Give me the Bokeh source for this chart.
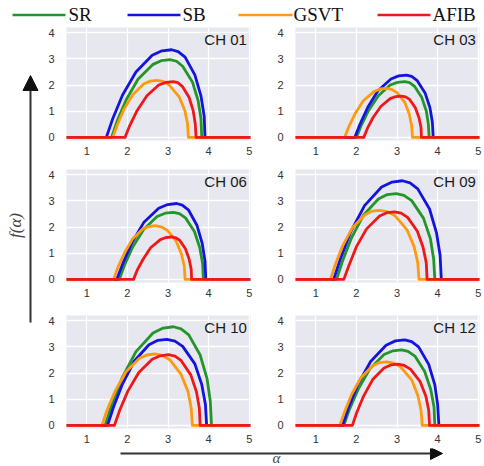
from bokeh.plotting import figure
from bokeh.layouts import column, row
from bokeh.models import FixedTicker, Label, Arrow, NormalHead, Range1d
from bokeh.embed import file_html
from bokeh.resources import INLINE
from bokeh.core.properties import value

# ---------------- data ----------------
CLASSES = ["SR", "SB", "GSVT", "AFIB"]
COLORS = ["#22962A", "#1414E0", "#FF9A10", "#EE1818"]
CHANNELS = ["CH 01", "CH 03", "CH 06", "CH 09", "CH 10", "CH 12"]
X_TICKS = [1, 2, 3, 4, 5]
Y_TICKS = [0, 1, 2, 3, 4]

CH01_SR_A = [1.61, 1.75, 1.97, 2.26, 2.62, 2.83, 3.05, 3.21, 3.36, 3.60, 3.74, 3.81, 3.83]
CH01_SR_F = [0, 0.64, 1.44, 2.22, 2.78, 2.93, 2.97, 2.91, 2.72, 2.12, 1.41, 0.72, 0]
CH01_SB_A = [1.48, 1.64, 1.88, 2.21, 2.61, 2.85, 3.09, 3.25, 3.42, 3.66, 3.81, 3.89, 3.91]
CH01_SB_F = [0, 0.72, 1.62, 2.50, 3.14, 3.31, 3.35, 3.28, 3.07, 2.39, 1.59, 0.81, 0]
CH01_GSVT_A = [1.64, 1.75, 1.91, 2.13, 2.40, 2.56, 2.72, 2.88, 3.03, 3.27, 3.41, 3.48, 3.50]
CH01_GSVT_F = [0, 0.47, 1.06, 1.63, 2.04, 2.15, 2.18, 2.14, 2.00, 1.56, 1.04, 0.53, 0]
CH01_AFIB_A = [1.94, 2.06, 2.24, 2.48, 2.77, 2.95, 3.13, 3.24, 3.35, 3.52, 3.62, 3.67, 3.69]
CH01_AFIB_F = [0, 0.46, 1.03, 1.59, 2.00, 2.10, 2.13, 2.09, 1.95, 1.52, 1.01, 0.52, 0]

CH03_SR_A = [2.00, 2.12, 2.30, 2.54, 2.83, 3.01, 3.19, 3.31, 3.43, 3.61, 3.72, 3.77, 3.79]
CH03_SR_F = [0, 0.46, 1.03, 1.59, 2.00, 2.10, 2.13, 2.09, 1.95, 1.52, 1.01, 0.52, 0]
CH03_SB_A = [1.96, 2.09, 2.28, 2.53, 2.85, 3.04, 3.23, 3.36, 3.49, 3.69, 3.81, 3.87, 3.89]
CH03_SB_F = [0, 0.51, 1.15, 1.78, 2.23, 2.35, 2.38, 2.33, 2.18, 1.70, 1.13, 0.58, 0]
CH03_GSVT_A = [1.71, 1.81, 1.97, 2.17, 2.43, 2.59, 2.74, 2.87, 3.00, 3.19, 3.30, 3.36, 3.38]
CH03_GSVT_F = [0, 0.40, 0.91, 1.40, 1.75, 1.85, 1.87, 1.83, 1.71, 1.34, 0.89, 0.45, 0]
CH03_AFIB_A = [2.18, 2.27, 2.41, 2.60, 2.83, 2.97, 3.11, 3.21, 3.31, 3.45, 3.54, 3.59, 3.60]
CH03_AFIB_F = [0, 0.34, 0.76, 1.18, 1.48, 1.56, 1.58, 1.55, 1.45, 1.13, 0.75, 0.38, 0]

CH06_SR_A = [1.80, 1.93, 2.13, 2.40, 2.73, 2.93, 3.13, 3.28, 3.43, 3.65, 3.78, 3.85, 3.87]
CH06_SR_F = [0, 0.55, 1.24, 1.91, 2.40, 2.53, 2.56, 2.51, 2.35, 1.83, 1.22, 0.62, 0]
CH06_SB_A = [1.74, 1.89, 2.11, 2.40, 2.77, 2.99, 3.21, 3.35, 3.50, 3.71, 3.84, 3.91, 3.93]
CH06_SB_F = [0, 0.62, 1.40, 2.17, 2.72, 2.86, 2.90, 2.84, 2.66, 2.07, 1.38, 0.70, 0]
CH06_GSVT_A = [1.66, 1.76, 1.92, 2.12, 2.37, 2.53, 2.68, 2.83, 2.98, 3.20, 3.33, 3.40, 3.42]
CH06_GSVT_F = [0, 0.44, 0.99, 1.53, 1.92, 2.02, 2.05, 2.01, 1.88, 1.46, 0.97, 0.50, 0]
CH06_AFIB_A = [2.15, 2.24, 2.39, 2.57, 2.81, 2.95, 3.09, 3.19, 3.29, 3.43, 3.52, 3.57, 3.58]
CH06_AFIB_F = [0, 0.35, 0.78, 1.21, 1.52, 1.60, 1.62, 1.59, 1.49, 1.16, 0.77, 0.39, 0]

CH09_SR_A = [1.51, 1.66, 1.88, 2.17, 2.54, 2.76, 2.98, 3.17, 3.36, 3.65, 3.82, 3.90, 3.93]
CH09_SR_F = [0, 0.71, 1.59, 2.45, 3.07, 3.24, 3.28, 3.21, 3.01, 2.34, 1.56, 0.80, 0]
CH09_SB_A = [1.44, 1.61, 1.86, 2.20, 2.62, 2.88, 3.13, 3.32, 3.51, 3.80, 3.97, 4.06, 4.09]
CH09_SB_F = [0, 0.81, 1.82, 2.82, 3.53, 3.72, 3.77, 3.69, 3.46, 2.69, 1.79, 0.92, 0]
CH09_GSVT_A = [1.36, 1.48, 1.66, 1.90, 2.21, 2.39, 2.57, 2.76, 2.96, 3.25, 3.42, 3.51, 3.54]
CH09_GSVT_F = [0, 0.57, 1.28, 1.97, 2.47, 2.61, 2.64, 2.59, 2.42, 1.88, 1.25, 0.64, 0]
CH09_AFIB_A = [1.69, 1.82, 2.00, 2.25, 2.57, 2.75, 2.94, 3.10, 3.26, 3.50, 3.64, 3.72, 3.74]
CH09_AFIB_F = [0, 0.55, 1.25, 1.93, 2.42, 2.55, 2.58, 2.53, 2.37, 1.84, 1.23, 0.63, 0]

CH10_SR_A = [1.45, 1.62, 1.87, 2.21, 2.63, 2.88, 3.13, 3.32, 3.51, 3.79, 3.96, 4.04, 4.07]
CH10_SR_F = [0, 0.81, 1.82, 2.82, 3.53, 3.72, 3.77, 3.69, 3.46, 2.69, 1.79, 0.92, 0]
CH10_SB_A = [1.51, 1.66, 1.88, 2.17, 2.53, 2.75, 2.97, 3.17, 3.36, 3.66, 3.83, 3.92, 3.95]
CH10_SB_F = [0, 0.71, 1.59, 2.46, 3.08, 3.25, 3.29, 3.22, 3.02, 2.35, 1.56, 0.80, 0]
CH10_GSVT_A = [1.37, 1.50, 1.70, 1.96, 2.29, 2.48, 2.68, 2.86, 3.05, 3.32, 3.49, 3.57, 3.60]
CH10_GSVT_F = [0, 0.59, 1.32, 2.04, 2.56, 2.69, 2.73, 2.68, 2.50, 1.95, 1.30, 0.66, 0]
CH10_AFIB_A = [1.68, 1.81, 2.01, 2.28, 2.61, 2.81, 3.01, 3.17, 3.32, 3.56, 3.70, 3.77, 3.79]
CH10_AFIB_F = [0, 0.58, 1.31, 2.02, 2.53, 2.66, 2.70, 2.65, 2.48, 1.93, 1.28, 0.66, 0]

CH12_SR_A = [1.69, 1.83, 2.05, 2.33, 2.68, 2.90, 3.11, 3.27, 3.44, 3.68, 3.83, 3.91, 3.93]
CH12_SR_F = [0, 0.62, 1.40, 2.16, 2.71, 2.85, 2.89, 2.83, 2.65, 2.06, 1.37, 0.70, 0]
CH12_SB_A = [1.66, 1.81, 2.04, 2.35, 2.73, 2.96, 3.19, 3.36, 3.53, 3.78, 3.93, 4.00, 4.03]
CH12_SB_F = [0, 0.70, 1.58, 2.44, 3.06, 3.23, 3.27, 3.20, 3.00, 2.33, 1.55, 0.79, 0]
CH12_GSVT_A = [1.59, 1.71, 1.88, 2.11, 2.40, 2.57, 2.74, 2.92, 3.09, 3.36, 3.51, 3.59, 3.62]
CH12_GSVT_F = [0, 0.52, 1.18, 1.82, 2.28, 2.40, 2.43, 2.38, 2.23, 1.74, 1.15, 0.59, 0]
CH12_AFIB_A = [1.90, 2.01, 2.18, 2.40, 2.68, 2.85, 3.02, 3.18, 3.33, 3.57, 3.71, 3.78, 3.80]
CH12_AFIB_F = [0, 0.50, 1.13, 1.75, 2.19, 2.31, 2.34, 2.29, 2.15, 1.67, 1.11, 0.57, 0]

CURVES = {
    "CH 01": [(CH01_SR_A, CH01_SR_F), (CH01_SB_A, CH01_SB_F),
              (CH01_GSVT_A, CH01_GSVT_F), (CH01_AFIB_A, CH01_AFIB_F)],
    "CH 03": [(CH03_SR_A, CH03_SR_F), (CH03_SB_A, CH03_SB_F),
              (CH03_GSVT_A, CH03_GSVT_F), (CH03_AFIB_A, CH03_AFIB_F)],
    "CH 06": [(CH06_SR_A, CH06_SR_F), (CH06_SB_A, CH06_SB_F),
              (CH06_GSVT_A, CH06_GSVT_F), (CH06_AFIB_A, CH06_AFIB_F)],
    "CH 09": [(CH09_SR_A, CH09_SR_F), (CH09_SB_A, CH09_SB_F),
              (CH09_GSVT_A, CH09_GSVT_F), (CH09_AFIB_A, CH09_AFIB_F)],
    "CH 10": [(CH10_SR_A, CH10_SR_F), (CH10_SB_A, CH10_SB_F),
              (CH10_GSVT_A, CH10_GSVT_F), (CH10_AFIB_A, CH10_AFIB_F)],
    "CH 12": [(CH12_SR_A, CH12_SR_F), (CH12_SB_A, CH12_SB_F),
              (CH12_GSVT_A, CH12_GSVT_F), (CH12_AFIB_A, CH12_AFIB_F)],
}

# ---------------- styling / layout ----------------
X_LO, X_HI = 0.5, 5.03
Y_LO, Y_HI = -0.12, 4.2
BG = "#E6E7EF"
TICK_FONT = "Liberation Sans"
SERIF = "Liberation Serif"
ROW_BOTTOM = [28, 32, 20]          # space under each row of panels
ROW_HEIGHTS = [1 + 113 + b for b in ROW_BOTTOM]


def make_panel(name, left, row_idx):
    width = 214 if left else 230
    mb_left = 26 if left else 41
    mb_right = 4 if left else 5
    mb_bottom = ROW_BOTTOM[row_idx]
    p = figure(width=width, height=ROW_HEIGHTS[row_idx],
               x_range=Range1d(X_LO, X_HI), y_range=Range1d(Y_LO, Y_HI),
               output_backend="svg", toolbar_location=None,
               min_border_left=mb_left, min_border_right=mb_right,
               min_border_top=1, min_border_bottom=mb_bottom)
    p.background_fill_color = BG
    p.border_fill_color = "white"
    p.outline_line_color = None
    p.xaxis.ticker = FixedTicker(ticks=X_TICKS)
    p.yaxis.ticker = FixedTicker(ticks=Y_TICKS)
    p.grid.grid_line_color = "white"
    p.grid.grid_line_width = 1.3
    for ax in (p.xaxis, p.yaxis):
        ax.axis_line_color = None
        ax.major_tick_line_color = None
        ax.minor_tick_line_color = None
        ax.major_tick_out = 0
        ax.major_tick_in = 0
        ax.major_label_text_font = TICK_FONT
        ax.major_label_text_font_size = "11px"
        ax.major_label_text_color = "#333333"
    p.xaxis.major_label_standoff = 6
    p.yaxis.major_label_standoff = 12

    for (alphas, fvals), color in zip(CURVES[name], COLORS):
        xs = [X_LO] + list(alphas) + [X_HI]
        ys = [0] + list(fvals) + [0]
        p.line(xs, ys, line_color=color, line_width=2.8, line_join="round")

    p.add_layout(Label(x=4.94, y=3.74, text=name, text_align="right",
                       text_baseline="middle", text_font=TICK_FONT,
                       text_font_size="15px", text_color="#1a1a1a"))
    return p


panels = []
for i, name in enumerate(CHANNELS):
    panels.append(make_panel(name, left=(i % 2 == 0), row_idx=i // 2))

grid_col = column(row(panels[0], panels[1], spacing=0),
                  row(panels[2], panels[3], spacing=0),
                  row(panels[4], panels[5], spacing=0), spacing=0)
grid_h = sum(ROW_HEIGHTS)


def blank(width, height):
    f = figure(width=width, height=height, x_range=Range1d(0, width),
               y_range=Range1d(0, height), output_backend="svg",
               toolbar_location=None, min_border=0)
    f.axis.visible = False
    f.grid.visible = False
    f.outline_line_color = None
    return f


# left strip: vertical arrow and f(alpha) label
strip = blank(40, grid_h)
strip.add_layout(Arrow(x_start=30, y_start=grid_h - 296, x_end=30,
                       y_end=grid_h - 49,
                       line_color="#333333", line_width=2,
                       end=NormalHead(size=15, fill_color="#111111",
                                      line_color="#111111")))
strip.add_layout(Label(x=15, y=grid_h - 199, text="f(α)", angle=1.5708,
                       text_align="center", text_baseline="middle",
                       text_font=SERIF, text_font_style="italic",
                       text_font_size="17px", text_color="#444444"))

# bottom strip: horizontal arrow and alpha label
bottom = blank(484, 18)
bottom.add_layout(Arrow(x_start=120, y_start=13, x_end=442, y_end=13,
                        line_color="#333333", line_width=2,
                        end=NormalHead(size=12, fill_color="#111111",
                                       line_color="#111111")))
bottom.add_layout(Label(x=276, y=9, text="α", text_align="center",
                        text_baseline="middle", text_font=SERIF,
                        text_font_style="italic", text_font_size="15px",
                        text_color="#444444"))

# legend strip (drawn by hand: sample line + label per class)
LEG_LINE_X0 = [12, 127, 238, 377]
LEG_LINE_X1 = [65, 180, 292, 430]
LEG_TEXT_X = [68, 182, 293, 432]
leg = blank(484, 26)
leg.segment(x0=LEG_LINE_X0, y0=[11.5] * 4, x1=LEG_LINE_X1, y1=[11.5] * 4,
            line_color=COLORS, line_width=2.4)
leg.text(x=LEG_TEXT_X, y=[12] * 4, text=CLASSES, text_align="left",
         text_baseline="middle", text_font=value(SERIF),
         text_font_size=value("19px"), text_color="#111111")

layout = column(leg, row(strip, grid_col, spacing=0), bottom, spacing=0)

open("out.html", "w").write(file_html(layout, INLINE))
